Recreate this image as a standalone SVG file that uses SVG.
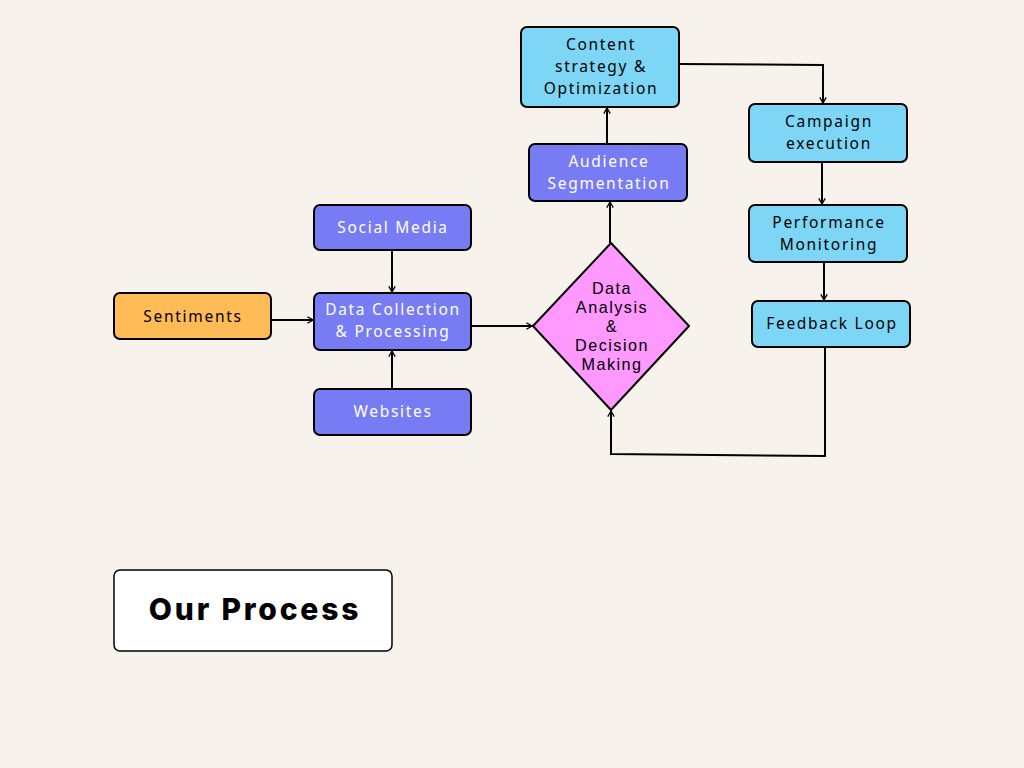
<svg xmlns="http://www.w3.org/2000/svg" width="1024" height="768" viewBox="0 0 1024 768">
<defs>
<marker id="arr" viewBox="0 0 10 10" refX="9" refY="5" markerWidth="8" markerHeight="8" markerUnits="userSpaceOnUse" orient="auto">
<polyline points="2,1 9,5 2,9" fill="none" stroke="#000" stroke-width="1.6"/>
</marker>
<style>
.box{stroke:#000;stroke-width:2}
.p{fill:#787CF4}
.c{fill:#7DD6F6}
.o{fill:#FFBB55}
.t{font-family:"Noto Sans","Liberation Sans",sans-serif;font-size:15.5px;letter-spacing:1.7px;text-anchor:middle;dominant-baseline:central}
.d{font-family:"Liberation Sans",sans-serif;font-size:16.2px;letter-spacing:1.5px;text-anchor:middle;dominant-baseline:central}
.w{fill:#fff}
.k{fill:#000}
.ln{fill:none;stroke:#000;stroke-width:2;marker-end:url(#arr)}
</style>
</defs>
<rect width="1024" height="768" fill="#F7F3EC"/>
<g id="connectors">
<line class="ln" x1="271" y1="320" x2="313" y2="320"/>
<line class="ln" x1="392" y1="250" x2="392" y2="292"/>
<line class="ln" x1="392" y1="389" x2="392" y2="351"/>
<line class="ln" x1="471" y1="326" x2="532" y2="326"/>
<line class="ln" x1="610" y1="243" x2="610" y2="202"/>
<line class="ln" x1="607" y1="144" x2="607" y2="108"/>
<polyline class="ln" points="679,64 823,65 823,103"/>
<line class="ln" x1="822" y1="162" x2="822" y2="204"/>
<line class="ln" x1="824" y1="262" x2="824" y2="300"/>
<polyline class="ln" points="825,347 825,456 611,454 611,411"/>
</g>
<g id="sentiments">
<rect class="box o" x="114" y="293" width="157" height="46" rx="6"/>
<text class="t k" x="193" y="316">Sentiments</text>
</g>
<g id="social-media">
<rect class="box p" x="314" y="205" width="157" height="45" rx="6"/>
<text class="t w" x="393" y="227">Social Media</text>
</g>
<g id="data-collection">
<rect class="box p" x="314" y="293" width="157" height="57" rx="6"/>
<text class="t w" x="393" y="309">Data Collection</text>
<text class="t w" x="393" y="331">&amp; Processing</text>
</g>
<g id="websites">
<rect class="box p" x="314" y="389" width="157" height="46" rx="6"/>
<text class="t w" x="393" y="411">Websites</text>
</g>
<g id="data-analysis">
<polygon class="box" points="611,243 689,326 611,410 533,326" fill="#FF99FF" stroke-linejoin="round"/>
<text class="d k" x="612" y="288">Data</text>
<text class="d k" x="612" y="307">Analysis</text>
<text class="d k" x="612" y="326">&amp;</text>
<text class="d k" x="612" y="345">Decision</text>
<text class="d k" x="612" y="364">Making</text>
</g>
<g id="audience">
<rect class="box p" x="529" y="144" width="158" height="57" rx="6"/>
<text class="t w" x="609" y="161">Audience</text>
<text class="t w" x="609" y="183">Segmentation</text>
</g>
<g id="content">
<rect class="box c" x="521" y="27" width="158" height="80" rx="6"/>
<text class="t k" x="601" y="44">Content</text>
<text class="t k" x="601" y="66">strategy &amp;</text>
<text class="t k" x="601" y="88">Optimization</text>
</g>
<g id="campaign">
<rect class="box c" x="749" y="104" width="158" height="58" rx="6"/>
<text class="t k" x="829" y="121">Campaign</text>
<text class="t k" x="829" y="143">execution</text>
</g>
<g id="performance">
<rect class="box c" x="749" y="205" width="158" height="57" rx="6"/>
<text class="t k" x="829" y="222">Performance</text>
<text class="t k" x="829" y="244">Monitoring</text>
</g>
<g id="feedback">
<rect class="box c" x="752" y="301" width="158" height="46" rx="6"/>
<text class="t k" x="832" y="323">Feedback Loop</text>
</g>
<g id="title">
<rect x="114" y="570" width="278" height="81" rx="6" fill="#fff" stroke="#000" stroke-width="1.5"/>
<text x="255" y="609" font-family="Inter,'Liberation Sans',sans-serif" font-weight="800" font-size="30" letter-spacing="2.8" text-anchor="middle" dominant-baseline="central" fill="#000">Our Process</text>
</g>
</svg>
